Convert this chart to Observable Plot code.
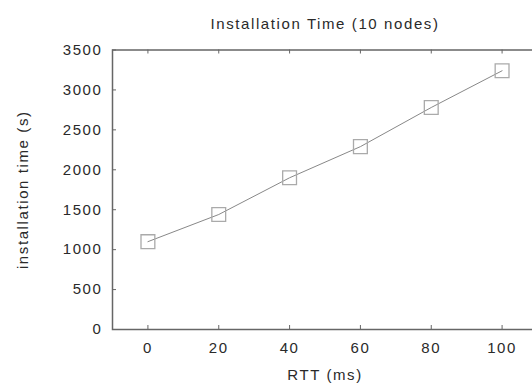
<!DOCTYPE html>
<html>
<head>
<meta charset="utf-8">
<script src="https://cdn.jsdelivr.net/npm/d3@7"></script>
<script src="https://cdn.jsdelivr.net/npm/@observablehq/plot@0.6"></script>
<style>
  html, body { margin: 0; padding: 0; background: #fff; overflow: hidden; }
  svg text { letter-spacing: 1.6px; }
</style>
</head>
<body>
<div id="chart"></div>
<script>
const title = "Installation Time (10 nodes)";
const xLabel = "RTT (ms)";
const yLabel = "installation time (s)";
const rtt = [0, 20, 40, 60, 80, 100];
const installTime = [1100, 1440, 1900, 2290, 2780, 3240];
const xTicks = [0, 20, 40, 60, 80, 100];
const yTicks = [0, 500, 1000, 1500, 2000, 2500, 3000, 3500];

const data = rtt.map((x, i) => ({x, y: installTime[i]}));

const W = 532, H = 385;
const mL = 112, mR = -5, mT = 49.5, mB = 56;
const fw = W - mL - mR, fh = H - mT - mB;
const tick = 4;
const ink = "#2a2a2a";
const frameColor = "#666";
const fs = 15;

const chart = Plot.plot({
  width: W,
  height: H,
  marginLeft: mL,
  marginRight: mR,
  marginTop: mT,
  marginBottom: mB,
  style: {fontFamily: "'Liberation Sans', Arial, sans-serif", fontSize: fs + "px", color: ink, background: "#fff", overflow: "hidden"},
  x: {domain: [-10, 110], axis: null},
  y: {domain: [0, 3500], axis: null},
  marks: [
    // inward ticks
    Plot.ruleX(xTicks, {stroke: frameColor, strokeWidth: 1, insetTop: fh - tick}),
    Plot.ruleX(xTicks, {stroke: frameColor, strokeWidth: 1, insetBottom: fh - tick}),
    Plot.ruleY(yTicks, {stroke: frameColor, strokeWidth: 1, insetRight: fw - tick}),
    Plot.ruleY(yTicks, {stroke: frameColor, strokeWidth: 1, insetLeft: fw - tick}),
    Plot.frame({stroke: frameColor, strokeWidth: 1.5}),
    // tick labels
    Plot.axisX({ticks: xTicks, tickFormat: "d", tickSize: 0, tickPadding: 13, label: null, fontSize: fs, fill: ink}),
    Plot.axisY({ticks: yTicks, tickFormat: "d", tickSize: 0, tickPadding: 10, label: null, fontSize: fs, fill: ink}),
    // data
    Plot.line(data, {x: "x", y: "y", stroke: "#888", strokeWidth: 1}),
    Plot.dot(data, {x: "x", y: "y", symbol: "square", r: 7.8, stroke: "#aaa", strokeWidth: 1.3, fill: "none"}),
    // titles
    Plot.text([title], {frameAnchor: "top", dy: -32, fontSize: fs, fill: ink}),
    Plot.text([xLabel], {frameAnchor: "bottom", dy: 50, fontSize: fs, fill: ink}),
    Plot.text([yLabel], {frameAnchor: "left", dx: -89, rotate: -90, textAnchor: "middle", fontSize: fs, fill: ink})
  ]
});
document.getElementById("chart").append(chart);
</script>
</body>
</html>
